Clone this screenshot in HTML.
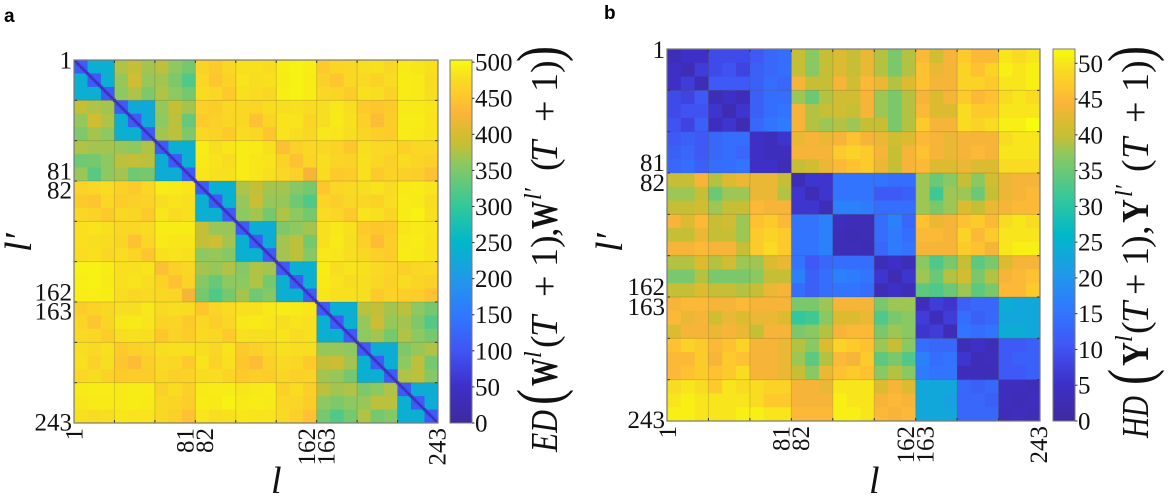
<!DOCTYPE html>
<html lang="en">
<head>
<meta charset="utf-8">
<title>Distance matrices</title>
<style>
html,body{margin:0;padding:0;background:#fff;width:1170px;height:498px;overflow:hidden}
svg{display:block}
text{font-family:"Liberation Serif",serif;fill:#111}
.m{font-size:38px}
.i{font-style:italic}
.b{font-weight:bold}
.tick{font-size:25px}
.cb{font-size:25px}
.panel{font-family:"Liberation Sans",sans-serif;font-weight:bold;font-size:19px;fill:#000}
</style>
</head>
<body>
<svg id="chart" width="1170" height="498" viewBox="0 0 1170 498" xmlns="http://www.w3.org/2000/svg">
  <text class="panel" x="4" y="22">a</text>
  <text class="panel" x="604" y="19">b</text>
  <g id="panelA"></g>
  <g id="panelB"></g>

  <text x="271" y="493" font-size="38" class="i">l</text>
  <text x="869" y="493" font-size="38" class="i">l</text>
  <text transform="translate(31,252) rotate(-90)" font-size="38" class="i">l′</text>
  <text transform="translate(622,252) rotate(-90)" font-size="38" class="i">l′</text>

  <g transform="translate(557,452) rotate(-90)">
    <text class="m i" x="0" y="0" textLength="42" lengthAdjust="spacingAndGlyphs">ED</text>
    <text x="47" y="3" font-size="62" textLength="16" lengthAdjust="spacingAndGlyphs">(</text>
    <text class="m b" x="66" y="0" textLength="28" lengthAdjust="spacingAndGlyphs">W</text>
    <text class="i" x="94" y="-16" font-size="24">l</text>
    <text class="m" x="104" y="0">(</text>
    <text class="m i" x="115" y="0">T</text>
    <text class="m" x="155" y="0">+</text>
    <text class="m" x="185" y="0">1</text>
    <text class="m" x="204" y="0">)</text>
    <text class="m" x="215" y="0">,</text>
    <text class="m b" x="223" y="0" textLength="28" lengthAdjust="spacingAndGlyphs">W</text>
    <text class="i" x="252" y="-16" font-size="24">l′</text>
    <text class="m" x="281" y="0">(</text>
    <text class="m i" x="290" y="0">T</text>
    <text class="m" x="330" y="0">+</text>
    <text class="m" x="360" y="0">1</text>
    <text class="m" x="379" y="0">)</text>
    <text x="390" y="3" font-size="62" textLength="16" lengthAdjust="spacingAndGlyphs">)</text>
  </g>

  <g transform="translate(1148,438) rotate(-90)">
    <text class="m i" x="0" y="0" textLength="42" lengthAdjust="spacingAndGlyphs">HD</text>
    <text x="53" y="3" font-size="62" textLength="16" lengthAdjust="spacingAndGlyphs">(</text>
    <text class="m b" x="72" y="0" textLength="24" lengthAdjust="spacingAndGlyphs">Y</text>
    <text class="i" x="96" y="-16" font-size="24">l</text>
    <text class="m" x="104" y="0">(</text>
    <text class="m i" x="115" y="0">T</text>
    <text class="m" x="143" y="0">+</text>
    <text class="m" x="172" y="0">1</text>
    <text class="m" x="190" y="0">)</text>
    <text class="m" x="203" y="0">,</text>
    <text class="m b" x="215" y="0" textLength="24" lengthAdjust="spacingAndGlyphs">Y</text>
    <text class="i" x="241" y="-16" font-size="24">l′</text>
    <text class="m" x="266" y="0">(</text>
    <text class="m i" x="279" y="0">T</text>
    <text class="m" x="315" y="0">+</text>
    <text class="m" x="346" y="0">1</text>
    <text class="m" x="365" y="0">)</text>
    <text x="376" y="3" font-size="62" textLength="16" lengthAdjust="spacingAndGlyphs">)</text>
  </g>
</svg>
<script>
// ---- shared data ----
const tickLabels = [1, 81, 82, 162, 163, 243];
const layerCount = 243;
const colorStops = [
  [0.00, '#3e2a9e'], [0.10, '#3e2fc8'], [0.20, '#4055f5'], [0.30, '#3078ff'],
  [0.40, '#1f9ae8'], [0.50, '#00b8c8'], [0.60, '#35c89a'], [0.72, '#90c85e'],
  [0.76, '#c0c038'], [0.80, '#d8bc30'], [0.855, '#fcb43a'], [0.90, '#fdc82c'],
  [0.95, '#f8de20'], [1.00, '#f8fb0e']
];

// ---- panel a: Euclidean distance (block -> 3x3 sub-block values) ----
const edTicks = [0, 50, 100, 150, 200, 250, 300, 350, 400, 450, 500];
const edDiagonal = [15, 80];
const edBlocks = [
 [ [[110,236,236],[236,110,236],[236,236,110]],
   [[375,385,370],[365,395,365],[360,375,350]],
   [[380,360,345],[370,350,320],[375,360,345]],
   [[465,455,470],[470,450,465],[475,470,455]],
   [[480,480,475],[482,478,480],[480,475,470]],
   [[492,495,492],[490,495,490],[492,495,490]],
   [[455,468,470],[462,450,470],[470,468,458]],
   [[478,480,470],[472,465,476],[480,478,465]],
   [[488,485,480],[490,488,476],[490,488,478]] ],
 [ [[385,375,370],[365,395,375],[350,370,360]],
   [[110,225,225],[236,110,225],[236,236,110]],
   [[365,385,370],[360,380,335],[370,380,350]],
   [[462,458,470],[455,462,468],[470,465,455]],
   [[470,468,475],[470,445,468],[475,470,450]],
   [[478,480,475],[482,482,468],[482,478,470]],
   [[478,486,478],[478,488,480],[486,484,478]],
   [[455,450,456],[462,440,458],[468,460,458]],
   [[488,488,485],[490,490,482],[490,488,482]] ],
 [ [[375,370,370],[340,345,360],[365,325,360]],
   [[365,360,375],[380,385,380],[370,340,345]],
   [[110,236,236],[232,110,236],[232,232,110]],
   [[490,478,485],[488,482,475],[485,480,480]],
   [[490,488,480],[490,485,482],[490,485,480]],
   [[442,462,470],[465,445,468],[470,462,425]],
   [[470,465,452],[478,468,465],[475,455,458]],
   [[478,472,470],[480,470,462],[480,455,465]],
   [[462,470,470],[475,468,462],[462,460,445]] ],
 [ [[465,470,475],[455,450,470],[470,465,455]],
   [[462,455,470],[458,462,465],[470,468,455]],
   [[490,488,485],[478,482,480],[485,475,480]],
   [[110,236,236],[236,110,236],[236,236,110]],
   [[375,385,370],[365,390,365],[360,370,345]],
   [[370,355,345],[365,340,320],[375,360,345]],
   [[450,470,472],[468,460,470],[475,470,455]],
   [[478,482,475],[470,465,478],[482,480,468]],
   [[488,490,484],[490,488,478],[490,495,480]] ],
 [ [[480,482,480],[480,478,475],[475,480,470]],
   [[470,470,475],[468,445,470],[475,468,450]],
   [[490,490,490],[488,485,485],[480,482,480]],
   [[385,365,365],[385,395,370],[360,365,355]],
   [[110,232,232],[236,110,232],[236,236,110]],
   [[350,360,370],[370,380,345],[370,380,355]],
   [[480,486,480],[480,488,478],[486,484,478]],
   [[455,452,455],[462,440,460],[470,462,458]],
   [[485,488,485],[488,490,482],[490,488,482]] ],
 [ [[495,495,490],[492,495,488],[492,492,490]],
   [[480,480,482],[480,482,478],[475,470,472]],
   [[442,462,470],[465,445,465],[470,468,425]],
   [[370,365,375],[355,335,360],[345,320,345]],
   [[355,375,370],[360,375,345],[370,340,355]],
   [[110,236,236],[236,110,236],[236,236,110]],
   [[490,478,482],[488,482,476],[485,480,480]],
   [[480,472,468],[478,470,462],[478,456,465]],
   [[462,470,472],[475,468,462],[460,458,445]] ],
 [ [[458,465,470],[468,450,468],[472,470,458]],
   [[478,478,486],[486,488,484],[478,480,478]],
   [[472,478,475],[465,468,455],[452,465,458]],
   [[452,468,475],[470,460,470],[472,470,455]],
   [[480,480,486],[486,488,484],[480,478,478]],
   [[490,488,485],[478,482,480],[482,476,480]],
   [[110,236,236],[236,110,236],[236,236,110]],
   [[378,385,370],[365,392,365],[360,370,345]],
   [[380,360,345],[370,350,322],[375,360,345]] ],
 [ [[478,472,480],[480,465,478],[470,476,465]],
   [[455,462,468],[450,440,460],[456,458,458]],
   [[478,480,480],[472,470,455],[470,462,465]],
   [[478,470,482],[482,465,480],[475,478,468]],
   [[455,462,470],[452,440,462],[455,460,458]],
   [[480,478,478],[472,470,456],[468,462,465]],
   [[365,365,360],[385,392,370],[370,365,345]],
   [[110,232,232],[236,110,232],[236,236,110]],
   [[350,365,375],[360,380,345],[375,380,355]] ],
 [ [[488,490,490],[485,488,488],[480,476,478]],
   [[488,490,490],[488,490,488],[485,482,482]],
   [[462,475,462],[470,468,460],[470,462,445]],
   [[488,490,490],[490,488,495],[484,478,480]],
   [[485,488,490],[488,490,488],[485,482,482]],
   [[462,475,460],[470,468,458],[472,462,445]],
   [[380,370,375],[360,350,360],[345,322,345]],
   [[350,360,375],[365,380,380],[375,345,355]],
   [[110,232,232],[236,110,232],[236,236,110]] ]
];

// ---- panel b: Hamming distance (block -> 3x3 sub-block values) ----
const hdTicks = [0, 5, 10, 15, 20, 25, 30, 35, 40, 45, 50];
const hdDiagonal = [];
const hdBlocks = [
 [ [[3,5,5],[5,3,7],[5,7,3]],
   [[9,9,9],[9,10,8],[11,11,11]],
   [[11,13,14],[12,13,14],[12,14,13]],
   [[40,37,40],[40,37,40],[44,40,40]],
   [[42,40,43],[42,40,43],[44,41,45]],
   [[39,36,39],[39,36,39],[43,39,42]],
   [[45,41,44],[46,43,44],[46,44,44]],
   [[47,45,45],[48,46,48],[48,48,47]],
   [[50,49,50],[51,50,51],[50,50,51]] ],
 [ [[9,8,11],[9,10,10],[10,8,12]],
   [[3,5,3.5],[6,2.5,6],[4,6,2.5]],
   [[12,14,14],[12,14,15],[13,15,16]],
   [[38,35,39],[44,39,40],[44,39,38]],
   [[41,41,44],[41,40,44],[39,38,40]],
   [[38,36,39],[38,36,39],[40,36,39]],
   [[44,42,44],[45,42,42],[47,44,44]],
   [[47,45,46],[49,47,47],[49,48,49]],
   [[49,50,49],[50,50,50],[51,51,52]] ],
 [ [[11,12,11],[12,13,11],[13,14,12]],
   [[13,14,14],[13,14,13],[14,14,15]],
   [[5,4,6],[5,4,4],[5,5,3]],
   [[43,44,43],[44,44,44],[40,41,43]],
   [[44,46,44],[47,48,47],[45,46,47]],
   [[43,41,42],[44,40,44],[43,40,44]],
   [[45,44,43],[46,44,43],[45,42,42]],
   [[44,44,44],[44,45,44],[43,42,42]],
   [[49,50,50],[50,50,50],[49,49,49]] ],
 [ [[40,40,44],[38,38,40],[40,40,41]],
   [[39,42,43],[35,38,38],[38,40,40]],
   [[43,43,40],[43,43,39],[45,44,44]],
   [[3,6,6],[6,3,6],[6,6,3]],
   [[15,15,15],[15,15,15],[17,17,16]],
   [[15,14,14],[11,11,12],[14,14,14]],
   [[38,35,37],[38,32,38],[38,36,38]],
   [[40,37,41],[38,35,40],[42,40,43]],
   [[43,44,44],[43,44,45],[44,45,45]] ],
 [ [[44,42,45],[40,40,43],[44,44,45]],
   [[40,41,38],[40,40,38],[44,44,40]],
   [[46,47,45],[47,48,47],[47,49,47]],
   [[15,15,17],[15,15,17],[15,15,17]],
   [[4,3,3],[3,2.5,3],[3,3,2.5]],
   [[14,17,13],[14,16,14],[13,16,15]],
   [[46,43,44],[45,45,44],[44,44,44]],
   [[46,47,45],[48,45,47],[47,46,44]],
   [[49,50,49],[50,50,50],[50,51,51]] ],
 [ [[39,39,42],[36,36,39],[40,40,42]],
   [[39,41,38],[36,36,36],[40,40,39]],
   [[38,42,43],[37,40,40],[40,43,44]],
   [[15,11,13],[17,12,14],[14,12,14]],
   [[14,14,14],[17,16,15],[15,15,14]],
   [[3,5,3],[6,2.5,6],[3,5,3]],
   [[37,33,36],[38,35,39],[34,33,35]],
   [[40,34,36],[41,36,39],[38,34,36]],
   [[42,44,44],[44,45,46],[45,45,47]] ],
 [ [[44,45,45],[45,43,44],[42,44,44]],
   [[44,44,45],[41,43,42],[43,44,43]],
   [[44,44,44],[43,43,42],[40,44,44]],
   [[36,36,38],[31,32,37],[36,37,39]],
   [[44,44,44],[42,42,43],[44,45,45]],
   [[36,38,38],[33,36,37],[36,38,37]],
   [[4,7,6],[7,4,7],[6,7,3]],
   [[12,13,13],[14,12,13],[15,14,15]],
   [[24,23,23],[23,23,23],[24,24,23]] ],
 [ [[46,48,47],[45,45,47],[45,46,47]],
   [[45,46,48],[44,47,46],[46,47,49]],
   [[44,44,43],[44,44,43],[44,44,43]],
   [[39,37,42],[38,34,39],[40,37,43]],
   [[48,47,46],[45,44,47],[46,47,46]],
   [[38,40,37],[34,36,33],[37,39,37]],
   [[14,13,13],[17,14,15],[16,15,15]],
   [[3,5,3],[6,3,4],[3.5,3.5,3]],
   [[11,11,12],[11,12,12],[11,11,12]] ],
 [ [[49,50,49],[50,51,50],[51,51,50]],
   [[47,50,49],[50,50,50],[50,50,51]],
   [[49,48,48],[49,47,47],[51,50,50]],
   [[44,44,43],[44,44,44],[45,45,45]],
   [[50,50,50],[51,50,50],[51,51,50]],
   [[42,44,42],[44,45,44],[45,44,45]],
   [[23,23,23],[23,23,22],[23,23,23]],
   [[13,12,13],[13,13,12],[13,13,13]],
   [[4,4,3],[4,3,4],[3,4,3]] ]
];

// ---- drawing ----
const NS = 'http://www.w3.org/2000/svg';
function node(tag, attrs, parent) {
  const el = document.createElementNS(NS, tag);
  for (const k in attrs) el.setAttribute(k, attrs[k]);
  parent.appendChild(el);
  return el;
}
function hexToRgb(h) {
  return [parseInt(h.slice(1,3),16), parseInt(h.slice(3,5),16), parseInt(h.slice(5,7),16)];
}
function colormap(t) {
  t = Math.max(0, Math.min(1, t));
  for (let i = 1; i < colorStops.length; i++) {
    if (t <= colorStops[i][0]) {
      const a = colorStops[i-1], b = colorStops[i];
      const f = (t - a[0]) / (b[0] - a[0]);
      const ca = hexToRgb(a[1]), cb = hexToRgb(b[1]);
      return 'rgb(' + ca.map((c, k) => Math.round(c + (cb[k] - c) * f)).join(',') + ')';
    }
  }
  return colorStops[colorStops.length - 1][1];
}
function labelNudge(label) {
  if (label === 81 || label === 162) return -9;
  if (label === 82 || label === 163) return 9;
  return 0;
}
let gradientCount = 0;

function drawPanel(root, cfg) {
  const x0 = cfg.left, y0 = cfg.top, w = cfg.size[0], h = cfg.size[1];
  const blocks = cfg.blocks;
  const n = blocks.length * 3;
  const sx = i => x0 + i * w / n;
  const sy = i => y0 + i * h / n;
  const lx = l => x0 + (l - 0.5) * w / layerCount;
  const ly = l => y0 + (l - 0.5) * h / layerCount;
  const color = v => colormap(v / cfg.vmax);

  const cells = node('g', {}, root);
  
  
  for (let i = 0; i < n; i++) {
    for (let j = 0; j < n; j++) {
      const v = blocks[Math.floor(i / 3)][Math.floor(j / 3)][i % 3][j % 3];
      const r = node('rect', {
        x: sx(j), y: sy(i),
        width: w / n + (j < n - 1 ? 0.6 : 0),
        height: h / n + (i < n - 1 ? 0.6 : 0),
        fill: color(v)
      }, cells);
      
      
    }
  }

  // fine diagonal (layer-resolution values); drawn widest band first
  for (let band = cfg.diagonal.length - 1; band >= 0; band--) {
    const val = cfg.diagonal[band];
    for (let l = 0; l < layerCount - band; l++) {
      const ux = w / layerCount, uy = h / layerCount;
      const r = node('rect', {
        x: x0 + (l + band) * ux, y: y0 + l * uy,
        width: ux + 0.3, height: uy + 0.3, fill: color(val)
      }, cells);
      
      
      if (band > 0) {
        const m = node('rect', {
          x: x0 + l * ux, y: y0 + (l + band) * uy,
          width: ux + 0.3, height: uy + 0.3, fill: color(val)
        }, cells);
        
        
      }
    }
  }

  // block separators and inward ticks
  const grid = node('g', {}, root);
  
  
  for (let b = 1; b < blocks.length; b++) {
    const px = sx(b * 3), py = sy(b * 3);
    node('line', {x1: px, x2: px, y1: y0, y2: y0 + h, stroke: 'rgba(90,80,50,0.22)', 'stroke-width': 1}, grid);
    node('line', {y1: py, y2: py, x1: x0, x2: x0 + w, stroke: 'rgba(90,80,50,0.22)', 'stroke-width': 1}, grid);
    node('line', {x1: px, x2: px, y1: y0, y2: y0 + 3, stroke: '#333', 'stroke-width': 1}, grid);
    node('line', {x1: px, x2: px, y1: y0 + h, y2: y0 + h - 3, stroke: '#333', 'stroke-width': 1}, grid);
    node('line', {y1: py, y2: py, x1: x0, x2: x0 + 3, stroke: '#333', 'stroke-width': 1}, grid);
    node('line', {y1: py, y2: py, x1: x0 + w, x2: x0 + w - 3, stroke: '#333', 'stroke-width': 1}, grid);
  }
  const frame = node('rect', {x: x0, y: y0, width: w, height: h, fill: 'none', stroke: '#7a7a7a', 'stroke-width': 1.2}, root);
  
  

  // tick labels
  tickLabels.forEach(label => {
    const yl = node('text', {
      class: 'tick', x: x0 - 2,
      y: ly(label) + labelNudge(label) + 8,
      'text-anchor': 'end'
    }, root);
    yl.textContent = label;
    
    
    const cx = lx(label) + labelNudge(label);
    const xl = node('text', {
      class: 'tick', 'text-anchor': 'end',
      transform: 'translate(' + (cx + 8) + ',' + (y0 + h + 5) + ') rotate(-90)'
    }, root);
    xl.textContent = label;
    
    
  });

  // colorbar
  const defs = node('defs', {}, root);
  const gid = 'cbgrad' + (gradientCount++);
  const grad = node('linearGradient', {id: gid, x1: 0, y1: 1, x2: 0, y2: 0}, defs);
  colorStops.forEach(s => node('stop', {offset: s[0], 'stop-color': s[1]}, grad));
  const bar = node('rect', {
    x: cfg.barLeft, y: y0, width: cfg.barWidth, height: h,
    fill: 'url(#' + gid + ')', stroke: '#7a7a7a', 'stroke-width': 1
  }, root);
  
  
  const vy = v => y0 + h - (v / cfg.vmax) * h;
  cfg.ticks.forEach(t => {
    node('line', {
      x1: cfg.barLeft + cfg.barWidth, x2: cfg.barLeft + cfg.barWidth + 2.5,
      y1: vy(t), y2: vy(t), stroke: '#333', 'stroke-width': 1
    }, root);
    const lab = node('text', {class: 'cb', x: cfg.barLeft + cfg.barWidth + 3, y: vy(t) + 8.5}, root);
    lab.textContent = t;
    
    
  });
}

drawPanel(document.getElementById('panelA'), {
  left: 74, top: 60, size: [364, 363], blocks: edBlocks, diagonal: edDiagonal,
  vmax: 503, ticks: edTicks, barLeft: 450, barWidth: 22
});
drawPanel(document.getElementById('panelB'), {
  left: 667, top: 49, size: [373, 372], blocks: hdBlocks, diagonal: hdDiagonal,
  vmax: 52, ticks: hdTicks, barLeft: 1053, barWidth: 22
});
</script>
</body>
</html>
